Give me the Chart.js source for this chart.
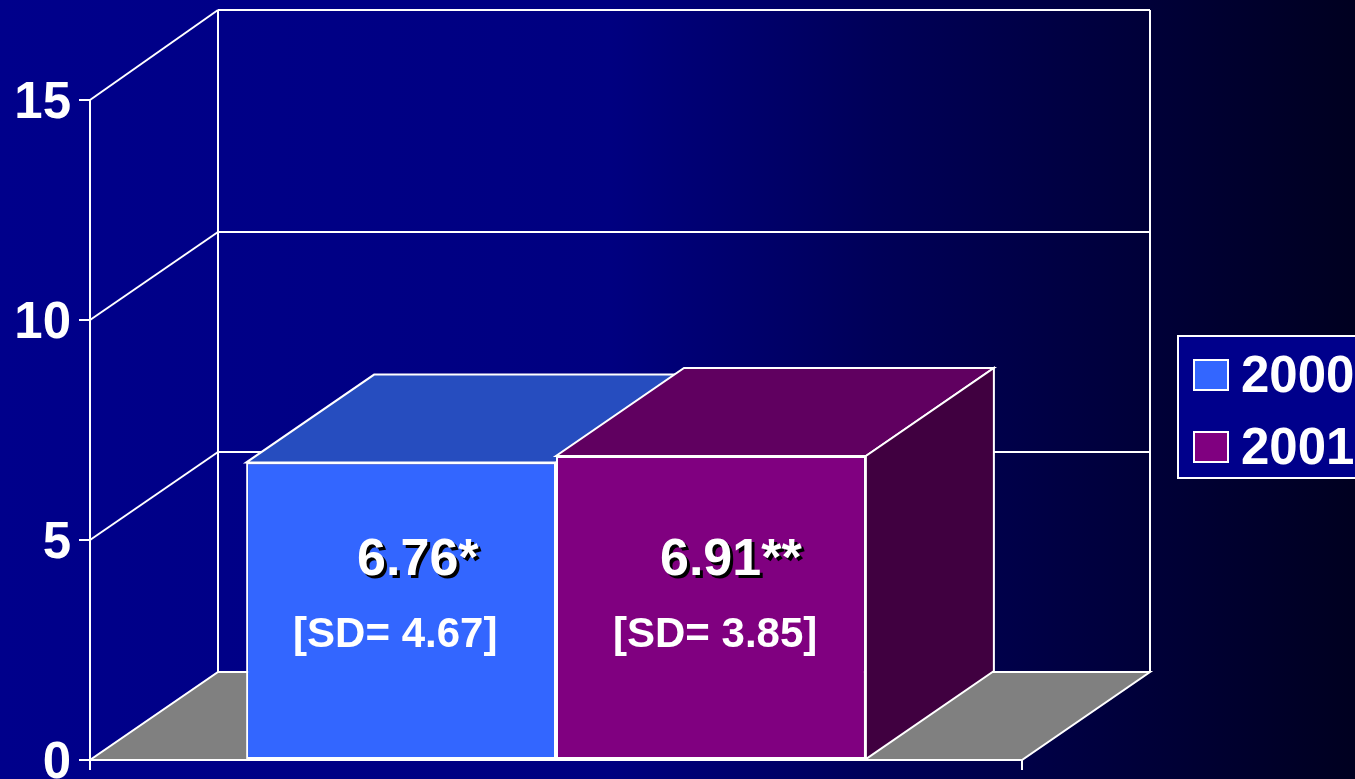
<!DOCTYPE html>
<html>
<head>
<meta charset="utf-8">
<script src="https://cdn.jsdelivr.net/npm/chart.js@4"></script>
<style>
  html, body { margin: 0; padding: 0; background: #000; overflow: hidden; }
  canvas { display: block; }
</style>
</head>
<body>
<canvas id="myChart" width="1355" height="779"></canvas>
<script>
var categories = [''];
var years = ['2000', '2001'];
var values2000 = [6.76];
var values2001 = [6.91];
var valueLabels = ['6.76*', '6.91**'];
var sdLabels = ['[SD= 4.67]', '[SD= 3.85]'];

var fontName = '"Liberation Sans", Arial, sans-serif';
var white = '#ffffff';
var depthX = 128, depthY = -88;
var frontColors = ['#3366ff', '#800080'];
var topColors = ['#264dbf', '#600060'];
var sideColors = ['#1a3380', '#400040'];

function poly(ctx, pts, fill) {
  ctx.beginPath();
  ctx.moveTo(pts[0][0], pts[0][1]);
  for (var i = 1; i < pts.length; i++) ctx.lineTo(pts[i][0], pts[i][1]);
  ctx.closePath();
  if (fill) { ctx.fillStyle = fill; ctx.fill(); }
  ctx.stroke();
}

function line(ctx, x1, y1, x2, y2) {
  ctx.beginPath();
  ctx.moveTo(x1, y1);
  ctx.lineTo(x2, y2);
  ctx.stroke();
}

// page gradient, back walls and floor
var wallsPlugin = {
  id: 'walls',
  beforeDraw: function(chart) {
    var ctx = chart.ctx;
    var g = ctx.createLinearGradient(0, 0, chart.width, 0);
    g.addColorStop(0, '#00008b');
    g.addColorStop(0.45, '#000080');
    g.addColorStop(0.65, '#000058');
    g.addColorStop(0.85, '#000038');
    g.addColorStop(1, '#000020');
    ctx.save();
    ctx.fillStyle = g;
    ctx.fillRect(0, 0, chart.width, chart.height);
    ctx.restore();
  },
  beforeDatasetsDraw: function(chart) {
    var ctx = chart.ctx, a = chart.chartArea, y = chart.scales.y;
    ctx.save();
    ctx.strokeStyle = white;
    ctx.lineWidth = 2;
    var bottom = y.getPixelForValue(0);

    poly(ctx, [[a.left, bottom], [a.right, bottom], [a.right + depthX, bottom + depthY], [a.left + depthX, bottom + depthY]], '#808080');

    y.ticks.forEach(function(t) {
      if (t.value === 0) return;
      var py = y.getPixelForValue(t.value);
      var backY = t.value === y.max ? 10 : py + depthY;
      line(ctx, a.left, py, a.left + depthX, backY);
      line(ctx, a.left + depthX, backY, a.right + depthX, backY);
    });
    line(ctx, a.left + depthX, 10, a.left + depthX, bottom + depthY);
    line(ctx, a.right + depthX, 10, a.right + depthX, bottom + depthY);

    // top and side faces, the fronts come from the bars themselves
    chart.data.datasets.forEach(function(ds, i) {
      var bar = chart.getDatasetMeta(i).data[0];
      var l = bar.x - bar.width / 2, r = bar.x + bar.width / 2;
      poly(ctx, [[l, bar.y], [r, bar.y], [r + depthX, bar.y + depthY], [l + depthX, bar.y + depthY]], topColors[i]);
      poly(ctx, [[r, bar.y], [r + depthX, bar.y + depthY], [r + depthX, bar.base + depthY], [r, bar.base]], sideColors[i]);
    });
    ctx.restore();
  }
};

// text on the bars and the legend
var textPlugin = {
  id: 'barText',
  afterDatasetsDraw: function(chart) {
    var ctx = chart.ctx;
    ctx.save();
    ctx.textBaseline = 'middle';
    ctx.textAlign = 'left';
    var valueOffset = [111, 104], sdOffset = [47, 57];
    chart.data.datasets.forEach(function(ds, i) {
      var bar = chart.getDatasetMeta(i).data[0];
      var l = bar.x - bar.width / 2;
      ctx.font = 'bold 52px ' + fontName;
      ctx.fillStyle = '#000000';
      ctx.fillText(valueLabels[i], l + valueOffset[i] + 3, 564);
      ctx.fillStyle = white;
      ctx.fillText(valueLabels[i], l + valueOffset[i], 561);
      ctx.font = 'bold 42px ' + fontName;
      ctx.fillText(sdLabels[i], l + sdOffset[i], 635);
    });

    ctx.strokeStyle = white;
    ctx.lineWidth = 2;
    ctx.fillStyle = '#00008b';
    ctx.fillRect(1178, 336, 190, 142);
    ctx.strokeRect(1178, 336, 190, 142);
    chart.data.datasets.forEach(function(ds, i) {
      var top = 360 + i * 72;
      ctx.fillStyle = ds.backgroundColor;
      ctx.fillRect(1194, top, 34, 30);
      ctx.strokeRect(1194, top, 34, 30);
      ctx.fillStyle = white;
      ctx.font = 'bold 51px ' + fontName;
      ctx.fillText(ds.label, 1241, top + 18);
    });
    ctx.restore();
  }
};

var ctx = document.getElementById('myChart').getContext('2d');
var myChart = new Chart(ctx, {
  type: 'bar',
  data: {
    labels: categories,
    datasets: [
      { label: years[0], data: values2000, backgroundColor: frontColors[0], borderColor: white, borderWidth: 2, borderSkipped: false },
      { label: years[1], data: values2001, backgroundColor: frontColors[1], borderColor: white, borderWidth: 2, borderSkipped: false }
    ]
  },
  options: {
    responsive: false,
    animation: false,
    categoryPercentage: 0.665,
    barPercentage: 1,
    layout: { padding: { top: 100, right: 333, left: 0, bottom: 0 } },
    plugins: { legend: { display: false }, tooltip: { enabled: false } },
    scales: {
      x: {
        afterFit: function(s) { s.height = 19; },
        ticks: { display: false },
        grid: { drawOnChartArea: false, drawTicks: true, tickLength: 10, color: white, lineWidth: 2 },
        border: { color: white, width: 2 }
      },
      y: {
        min: 0,
        max: 15,
        afterFit: function(s) { s.width = 90; s.paddingTop = 0; s.paddingBottom = 0; },
        ticks: { stepSize: 5, color: white, padding: 8, labelOffset: 4, font: { family: fontName, size: 51, weight: 'bold' } },
        grid: { drawOnChartArea: false, drawTicks: true, tickLength: 11, color: white, lineWidth: 2 },
        border: { color: white, width: 2 }
      }
    }
  },
  plugins: [wallsPlugin, textPlugin]
});
</script>
</body>
</html>
